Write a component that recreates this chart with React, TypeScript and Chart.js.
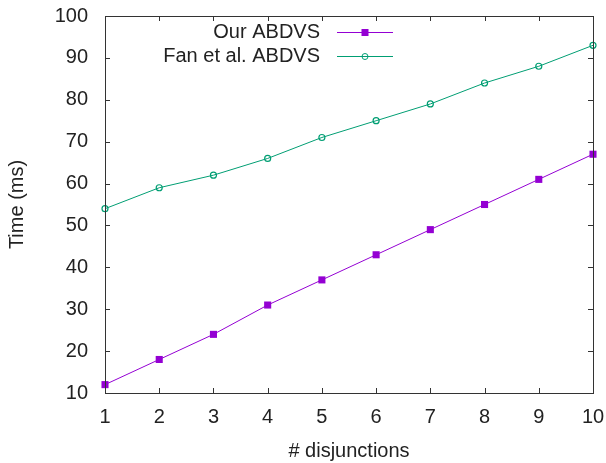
import { useEffect, useRef } from 'react';
import { Chart, registerables } from 'chart.js';

Chart.register(...registerables);

const disjunctions = ['1', '2', '3', '4', '5', '6', '7', '8', '9', '10'];
const ourAbdvs = [12, 18, 24, 31, 37, 43, 49, 55, 61, 67];
const fanAbdvs = [54, 59, 62, 66, 71, 75, 79, 84, 88, 93];
const yTicks = [10, 20, 30, 40, 50, 60, 70, 80, 90, 100];

const PURPLE = '#9400d3';
const GREEN = '#009e73';
const TEXT = '#222222';
const FONT = "'Liberation Sans', Arial, sans-serif";
const SIZE = 20;

// gnuplot style frame with inward ticks on all four sides
const framePlugin = {
  id: 'frame',
  afterDraw(chart: any) {
    const { ctx, chartArea: a, scales } = chart;
    const len = 5;
    ctx.save();
    ctx.strokeStyle = '#333333';
    ctx.lineWidth = 1;
    ctx.strokeRect(Math.round(a.left) + 0.5, Math.round(a.top) + 0.5, Math.round(a.right - a.left), Math.round(a.bottom - a.top));
    ctx.beginPath();
    scales.x.ticks.forEach((_t: any, i: number) => {
      const x = Math.round(scales.x.getPixelForTick(i)) + 0.5;
      ctx.moveTo(x, a.bottom);
      ctx.lineTo(x, a.bottom - len);
      ctx.moveTo(x, a.top);
      ctx.lineTo(x, a.top + len);
    });
    scales.y.ticks.forEach((t: any) => {
      const y = Math.round(scales.y.getPixelForValue(t.value)) + 0.5;
      ctx.moveTo(a.left, y);
      ctx.lineTo(a.left + len, y);
      ctx.moveTo(a.right, y);
      ctx.lineTo(a.right - len, y);
    });
    ctx.stroke();
    ctx.restore();
  },
};

// legend with right-aligned text and line sample, as gnuplot draws it
const keyPlugin = {
  id: 'key',
  afterDraw(chart: any) {
    const { ctx } = chart;
    const textRight = 320;
    const x0 = 337;
    const x1 = 393;
    ctx.save();
    ctx.font = `${SIZE}px ${FONT}`;
    ctx.textAlign = 'right';
    ctx.textBaseline = 'middle';
    chart.data.datasets.forEach((ds: any, i: number) => {
      const y = 32 + i * 24;
      ctx.fillStyle = TEXT;
      ctx.fillText(ds.label, textRight, y);
      ctx.strokeStyle = ds.borderColor;
      ctx.lineWidth = 1;
      ctx.beginPath();
      ctx.moveTo(x0, y + 0.5);
      ctx.lineTo(x1, y + 0.5);
      ctx.stroke();
      const mx = (x0 + x1) / 2;
      if (ds.pointStyle === 'rect') {
        ctx.fillStyle = ds.pointBackgroundColor;
        ctx.fillRect(mx - 3.5, y - 3, 7, 7);
      } else {
        ctx.strokeStyle = ds.pointBorderColor;
        ctx.beginPath();
        ctx.arc(mx, y + 0.5, 3, 0, Math.PI * 2);
        ctx.stroke();
      }
    });
    ctx.restore();
  },
};

export default function App() {
  const canvasRef = useRef<HTMLCanvasElement>(null);

  useEffect(() => {
    document.body.style.margin = '0';
    if (!canvasRef.current) return;
    const chart = new Chart(canvasRef.current, {
      type: 'line',
      data: {
        labels: disjunctions,
        datasets: [
          {
            label: 'Our ABDVS',
            data: ourAbdvs,
            borderColor: PURPLE,
            borderWidth: 1,
            pointStyle: 'rect',
            pointRadius: 5,
            pointBackgroundColor: PURPLE,
            pointBorderColor: PURPLE,
            pointBorderWidth: 0,
            tension: 0,
          },
          {
            label: 'Fan et al. ABDVS',
            data: fanAbdvs,
            borderColor: GREEN,
            borderWidth: 1,
            pointStyle: 'circle',
            pointRadius: 3,
            pointBackgroundColor: 'transparent',
            pointBorderColor: GREEN,
            pointBorderWidth: 1.2,
            tension: 0,
          },
        ],
      },
      options: {
        responsive: false,
        animation: false,
        layout: { padding: { top: 16, right: 13, left: 0, bottom: 0 } },
        plugins: {
          legend: { display: false },
          tooltip: { enabled: false },
        },
        scales: {
          x: {
            offset: false,
            grid: { display: false, drawTicks: false },
            border: { display: false },
            ticks: {
              color: TEXT,
              font: { family: FONT, size: SIZE },
              padding: 12,
              maxRotation: 0,
            },
            title: {
              display: true,
              text: '# disjunctions',
              color: TEXT,
              font: { family: FONT, size: SIZE },
              padding: { top: 0, bottom: 0 },
            },
            afterFit: (s: any) => {
              s.height = 70;
              s.paddingLeft = 0;
              s.paddingRight = 0;
            },
          },
          y: {
            min: 10,
            max: 100,
            afterBuildTicks: (s: any) => {
              s.ticks = yTicks.map((v) => ({ value: v }));
            },
            grid: { display: false, drawTicks: false },
            border: { display: false },
            ticks: {
              color: TEXT,
              font: { family: FONT, size: SIZE },
              padding: 17,
            },
            title: {
              display: true,
              text: 'Time (ms)',
              color: TEXT,
              font: { family: FONT, size: SIZE },
              padding: { top: 5, bottom: 0 },
            },
            afterFit: (s: any) => {
              s.width = 105;
              s.paddingTop = 0;
              s.paddingBottom = 0;
            },
          },
        },
      },
      plugins: [framePlugin, keyPlugin],
    });
    return () => chart.destroy();
  }, []);

  return (
    <div style={{ width: 606, height: 463, background: '#fff' }}>
      <canvas ref={canvasRef} width={606} height={463} />
    </div>
  );
}
